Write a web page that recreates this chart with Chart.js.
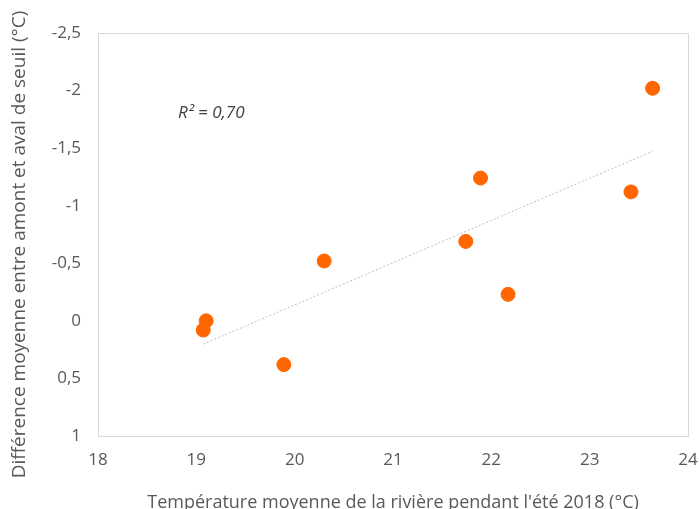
<!DOCTYPE html>
<html lang="fr">
<head>
    <meta charset="UTF-8">
    <title>Différence amont/aval vs température</title>
    <script src="https://cdn.jsdelivr.net/npm/chart.js"></script>
    <style>
        body { margin: 0; background: #fff; }
        canvas { display: block; }
    </style>
</head>
<body>
    <canvas id="chart" width="699" height="509"></canvas>
    <script>
        // Température moyenne (°C) et différence amont/aval (°C)
        const temperatures = [19.10, 19.07, 19.89, 20.30, 21.74, 21.89, 22.17, 23.42, 23.64];
        const differences = [0.00, 0.08, 0.38, -0.52, -0.69, -1.24, -0.23, -1.12, -2.02];
        const xTicks = [18, 19, 20, 21, 22, 23, 24];
        const yTicks = [-2.5, -2, -1.5, -1, -0.5, 0, 0.5, 1];
        const r2Label = 'R² = 0,70';
        const yTitle = 'Différence moyenne entre amont et aval de seuil (°C)';

        // linear trend (least squares), drawn from min to max temperature
        const n = temperatures.length;
        const mx = temperatures.reduce((a, b) => a + b, 0) / n;
        const my = differences.reduce((a, b) => a + b, 0) / n;
        let sxy = 0, sxx = 0;
        for (let i = 0; i < n; i++) {
            sxy += (temperatures[i] - mx) * (differences[i] - my);
            sxx += (temperatures[i] - mx) ** 2;
        }
        const slope = sxy / sxx;
        const intercept = my - slope * mx;
        const xMin = Math.min(...temperatures), xMax = Math.max(...temperatures);
        const trend = [xMin, xMax].map(x => ({ x: x, y: intercept + slope * x }));

        const points = temperatures.map((t, i) => ({ x: t, y: differences[i] }));
        const fmt = v => String(v).replace('.', ',');

        // frame around the plot area, R² label and the y title (a bit below centre, like Excel)
        const framePlugin = {
            id: 'frame',
            beforeDatasetsDraw(chart) {
                const a = chart.chartArea, c = chart.ctx;
                c.save();
                c.strokeStyle = '#d9d9d9';
                c.lineWidth = 1;
                c.strokeRect(Math.round(a.left) + 0.5, Math.round(a.top) + 0.5,
                    Math.round(a.right - a.left), Math.round(a.bottom - a.top));
                c.restore();
            },
            afterDraw(chart) {
                const a = chart.chartArea, c = chart.ctx;
                c.save();
                c.font = 'italic 17px "Open Sans"';
                c.fillStyle = '#404040';
                c.textBaseline = 'middle';
                c.fillText(r2Label, a.left + 80, a.top + 80);

                c.translate(20, (a.top + a.bottom) / 2 + 10);
                c.rotate(-Math.PI / 2);
                c.font = '19px "Open Sans"';
                c.fillStyle = '#595959';
                c.textAlign = 'center';
                c.fillText(yTitle, 0, 0);
                c.restore();
            }
        };

        const ctx = document.getElementById('chart').getContext('2d');
        new Chart(ctx, {
            type: 'scatter',
            data: {
                datasets: [
                    {
                        label: 'Mesures',
                        data: points,
                        backgroundColor: '#ff6600',
                        borderColor: '#ff6600',
                        pointRadius: 7,
                        pointHoverRadius: 7
                    },
                    {
                        label: 'Tendance',
                        type: 'line',
                        data: trend,
                        borderColor: '#bfbfbf',
                        borderWidth: 1,
                        borderDash: [2, 2],
                        pointRadius: 0,
                        fill: false
                    }
                ]
            },
            options: {
                responsive: false,
                animation: false,
                layout: { padding: { left: 8, right: 11, top: 33, bottom: 0 } },
                plugins: {
                    legend: { display: false },
                    tooltip: { enabled: false }
                },
                scales: {
                    x: {
                        type: 'linear',
                        min: 18,
                        max: 24,
                        afterBuildTicks: s => { s.ticks = xTicks.map(v => ({ value: v })); },
                        ticks: {
                            color: '#595959',
                            font: { family: 'Open Sans', size: 17 },
                            padding: 6
                        },
                        grid: { display: false },
                        border: { display: false },
                        title: {
                            display: true,
                            text: "Température moyenne de la rivière pendant l'été 2018 (°C)",
                            color: '#595959',
                            font: { family: 'Open Sans', size: 18 },
                            padding: { top: 0, bottom: -5 }
                        },
                        afterFit: s => {
                            s.height = 509 - 436;
                            s.paddingLeft = 0;
                            s.paddingRight = 0;
                        }
                    },
                    y: {
                        type: 'linear',
                        min: -2.5,
                        max: 1,
                        reverse: true,
                        afterBuildTicks: s => { s.ticks = yTicks.map(v => ({ value: v })); },
                        ticks: {
                            color: '#595959',
                            font: { family: 'Open Sans', size: 17 },
                            padding: 9,
                            callback: v => fmt(v)
                        },
                        grid: { display: false },
                        border: { display: false },
                        title: { display: false },
                        afterFit: s => {
                            s.width = 98 - 8;
                            s.paddingTop = 0;
                            s.paddingBottom = 0;
                        }
                    }
                }
            },
            plugins: [framePlugin]
        });
    </script>
</body>
</html>
